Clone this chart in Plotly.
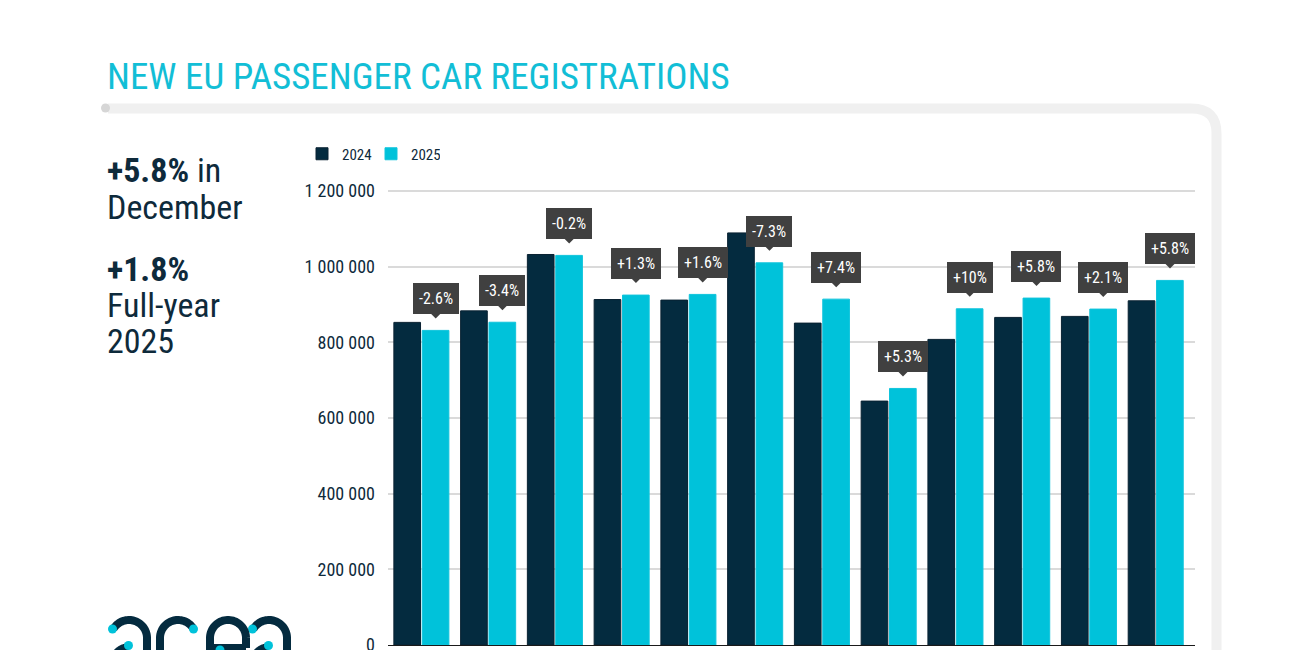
import numpy as np
import plotly.graph_objects as go

# ---------------- data ----------------
months = ["Jan", "Feb", "Mar", "Apr", "May", "Jun", "Jul", "Aug", "Sep", "Oct", "Nov", "Dec"]
reg_2024 = [852600, 883000, 1032000, 913000, 911500, 1089000, 850700, 644600, 807600, 865700, 868400, 909600]
reg_2025 = [831400, 853000, 1029600, 924700, 926500, 1010000, 914000, 678000, 888500, 916800, 887700, 963500]
change_labels = ["-2.6%", "-3.4%", "-0.2%", "+1.3%", "+1.6%", "-7.3%", "+7.4%", "+5.3%", "+10%", "+5.8%", "+2.1%", "+5.8%"]
y_tickvals = [0, 200000, 400000, 600000, 800000, 1000000, 1200000]
y_ticktext = ["0", "200 000", "400 000", "600 000", "800 000", "1 000 000", "1 200 000"]
title_text = "NEW EU PASSENGER CAR REGISTRATIONS"
side_lines = [("<b>+5.8%</b> in", 170), ("December", 207), ("<b>+1.8%</b>", 269), ("Full-year", 305), ("2025", 341)]

# ---------------- style ----------------
NAVY = "#042b3f"
CYAN = "#00c2da"
TITLE_CYAN = "#12bed6"
TEXT = "#0e2a3b"
CALLOUT = "#404040"
FONT = "Roboto Condensed, Liberation Sans Narrow, Roboto, sans-serif"

W, H = 1300, 650
L, R, T, B = 388, 1195, 172, 645


def px(x):
    return (x - L) / (R - L)


def py(y):
    return (B - y) / (B - T)


fig = go.Figure()
fig.add_trace(go.Bar(x=months, y=reg_2024, name="2024", marker_color=NAVY,
                     marker_line=dict(color="#0a2232", width=1)))
fig.add_trace(go.Bar(x=months, y=reg_2025, name="2025", marker_color=CYAN,
                     marker_line=dict(color="#10c4dc", width=1)))

bargap = 0.15
cat_px = (R - L) / len(months)
slot_px = cat_px * (1 - bargap) / 2
off = slot_px / 2

annotations = []
shapes = []

# callouts above 2025 bars
for m, v, lab in zip(months, reg_2025, change_labels):
    annotations.append(dict(
        x=m, y=v, xref="x", yref="y", text=lab, showarrow=False,
        xanchor="center", yanchor="bottom", xshift=off, yshift=16,
        bgcolor=CALLOUT, bordercolor=CALLOUT, borderwidth=1, borderpad=5,
        font=dict(family=FONT, size=16, color="white")))
    shapes.append(dict(
        type="path", xref="x", yref="y", xsizemode="pixel", ysizemode="pixel",
        xanchor=m, yanchor=v,
        path=f"M {off-5:.1f},17 L {off+5:.1f},17 L {off:.1f},12 Z",
        fillcolor=CALLOUT, line=dict(width=0), layer="above"))

# title
annotations.append(dict(x=px(105), y=py(77), xref="paper", yref="paper", text=title_text,
                        showarrow=False, xanchor="left", yanchor="middle",
                        font=dict(family=FONT, size=37, color=TITLE_CYAN)))
# side texts
for txt, yc in side_lines:
    annotations.append(dict(x=px(105), y=py(yc), xref="paper", yref="paper", text=txt,
                            showarrow=False, xanchor="left", yanchor="middle",
                            font=dict(family=FONT, size=34, color=TEXT)))

# card outline
card_path = (f"M {px(108)},{py(108.5)} L {px(1191.5)},{py(108.5)} "
             f"Q {px(1216.5)},{py(108.5)} {px(1216.5)},{py(133.5)} L {px(1216.5)},{py(700)}")
shapes.append(dict(type="path", xref="paper", yref="paper", path=card_path,
                   line=dict(color="#f0f0f0", width=10), fillcolor="rgba(0,0,0,0)", layer="below"))
shapes.append(dict(type="circle", xref="paper", yref="paper",
                   x0=px(101), x1=px(110), y0=py(103.5), y1=py(112.5),
                   fillcolor="#d6d6d6", line=dict(width=0)))


# logo "acea"
def arc(cx, cy, r, a0, a1, tail=None):
    ang = np.radians(np.linspace(a0, a1, 40))
    xs = cx + r * np.cos(ang)
    ys = cy - r * np.sin(ang)
    pts = list(zip(xs, ys))
    if tail is not None:
        pts.append(tail)
    return "M " + " L ".join(f"{px(a):.5f},{py(b):.5f}" for a, b in pts)


def stroke(path):
    shapes.append(dict(type="path", xref="paper", yref="paper", path=path,
                       line=dict(color=NAVY, width=8), fillcolor="rgba(0,0,0,0)"))


def dot(cx, cy, r=4.5):
    shapes.append(dict(type="circle", xref="paper", yref="paper",
                       x0=px(cx - r), x1=px(cx + r), y0=py(cy + r), y1=py(cy - r),
                       fillcolor=CYAN, line=dict(width=0)))


for cx in (129, 269):  # letters a
    stroke(arc(cx, 638, 18, 150, 0, tail=(cx + 18, 665)))
    stroke(arc(cx + 1, 665, 18, 95, 150))
    dot(cx - 16.5, 629)
    dot(cx - 0.5, 645.5)
# letter c
stroke(arc(178, 638, 18, 30, 180, tail=(160, 665)))
dot(193.5, 629)
# letter e
stroke(arc(228, 638, 18, 0, 180, tail=(210, 665)))
shapes.append(dict(type="line", xref="paper", yref="paper", x0=px(210), x1=px(246),
                   y0=py(648), y1=py(648), line=dict(color=NAVY, width=8)))
stroke(f"M {px(246)},{py(638)} L {px(246)},{py(648)}")
dot(220, 650)

fig.update_layout(
    width=W, height=H,
    margin=dict(l=L, r=W - R, t=T, b=H - B, pad=0, autoexpand=False),
    paper_bgcolor="white", plot_bgcolor="white",
    barmode="group", bargap=bargap, bargroupgap=0.06,
    font=dict(family=FONT, color=TEXT),
    showlegend=True,
    legend=dict(orientation="h", x=px(302), xanchor="left", y=py(154), yanchor="middle",
                font=dict(family=FONT, size=15, color=TEXT), bgcolor="rgba(0,0,0,0)",
                entrywidth=24, itemclick=False),
    xaxis=dict(showticklabels=False, showgrid=False, showline=True, linecolor="#1a1a1a",
               linewidth=1, ticks="", fixedrange=True, automargin=False),
    yaxis=dict(range=[0, 1250000], tickvals=y_tickvals, ticktext=y_ticktext,
               showgrid=True, gridcolor="#dadada", gridwidth=1.5, zeroline=False,
               showline=False, ticks="", ticklabelstandoff=12, ticklabeloverflow="allow",
               tickfont=dict(family=FONT, size=18, color=TEXT), fixedrange=True,
               automargin=False),
    annotations=annotations,
    shapes=shapes,
)

fig.write_html("out.html")
